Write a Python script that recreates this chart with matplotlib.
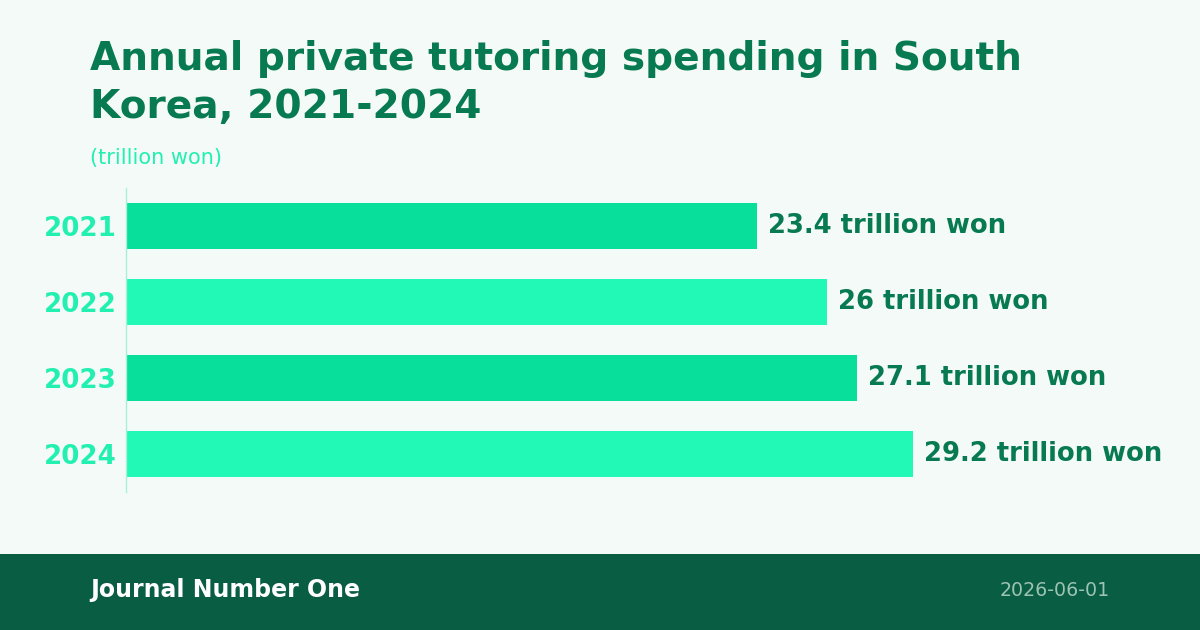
import matplotlib
matplotlib.use("Agg")
import matplotlib.pyplot as plt
from matplotlib.patches import Rectangle

plt.rcParams["font.family"] = ["DejaVu Sans"]

years = ["2021", "2022", "2023", "2024"]
spending = [23.4, 26, 27.1, 29.2]
labels = ["23.4 trillion won", "26 trillion won", "27.1 trillion won", "29.2 trillion won"]

bg = "#F4FAF8"
bar_colors = ["#07DF9A", "#22F9B6"]
dark = "#077A52"
bright = "#22F0B0"
footer = "#095D43"

fig = plt.figure(figsize=(12, 6.3), dpi=100, facecolor=bg)

# footer band
fig.patches.append(Rectangle((0, 0), 1, 76 / 630, transform=fig.transFigure,
                             facecolor=footer, edgecolor="none", zorder=0))
fig.text(90 / 1200, 40 / 630, "Journal Number One", color="white", fontsize=17,
         fontweight="bold", va="center", ha="left")
fig.text(1110 / 1200, 40 / 630, "2026-06-01", color="#9DC3B3", fontsize=13.7,
         va="center", ha="right")

fig.text(90 / 1200, 1 - 40 / 630, "Annual private tutoring spending in South\nKorea, 2021-2024",
         color=dark, fontsize=28.2, fontweight="bold", va="top", ha="left", linespacing=1.32)
fig.text(90 / 1200, 1 - 158 / 630, "(trillion won)", color=bright, fontsize=15,
         va="center", ha="left")

ax = fig.add_axes([126 / 1200, 1 - 492 / 630, 984 / 1200, 304 / 630])
ax.set_facecolor(bg)
pos = list(range(len(years)))
colors = [bar_colors[i % 2] for i in pos]
ax.barh(pos, spending, height=0.6, color=colors)
ax.set_xlim(0, max(spending) * 1.25)
ax.set_ylim(len(years) - 0.5, -0.5)
ax.set_yticks(pos)
ax.set_yticklabels(years, color=bright, fontsize=18.8, fontweight="bold")
ax.tick_params(axis="y", length=0, pad=7)
ax.set_xticks([])
for s in ["top", "right", "bottom"]:
    ax.spines[s].set_visible(False)
ax.spines["left"].set_color("#A8F0D6")
ax.spines["left"].set_linewidth(1)

for p, v, t in zip(pos, spending, labels):
    ax.annotate(t, (v, p), xytext=(8, 0), textcoords="offset points",
                va="center", ha="left", color=dark, fontsize=18.6, fontweight="bold")

fig.savefig("out.png", dpi=100, facecolor=bg)
